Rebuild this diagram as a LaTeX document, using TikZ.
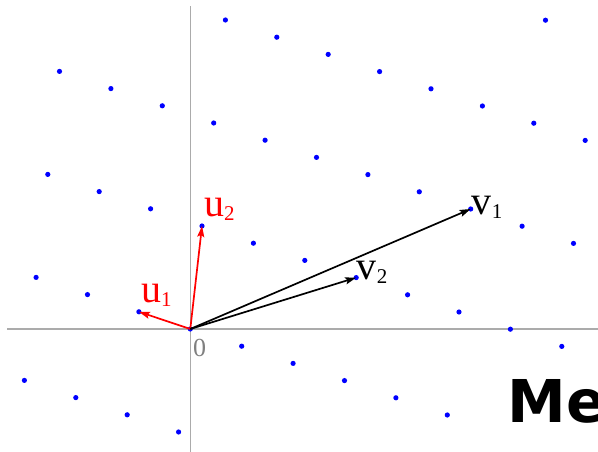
\documentclass[tikz,border=0pt]{standalone}
\usepackage{fontspec}
\setmainfont{Liberation Serif}
\newfontfamily\headfont{DejaVu Sans}
\usepackage{tikz}
\usetikzlibrary{arrows.meta}
\tikzset{
  axisline/.style={draw=black!33, line width=1.4pt},
  latdot/.style={fill=blue},
  basisvec/.style={line width=1.7pt, -{Stealth[length=11pt, width=7pt, inset=2pt]}},
  veclabel/.style={anchor=base west, inner sep=0pt},
}
\newcommand{\veclab}[2]{{\fontsize{40}{40}\selectfont #1}\raisebox{-4pt}{\fontsize{21}{21}\selectfont #2}}

\begin{document}
\begin{tikzpicture}[x=1pt, y=1pt]
  \useasboundingbox (-190.3,-123) rectangle (407.7,329);
  \clip (-190.3,-123) rectangle (407.7,329);
  % axes
  \coordinate (xl) at (-183,0);
  \coordinate (xr) at (407.7,0);
  \coordinate (yb) at (0,-123);
  \coordinate (yt) at (0,323);
  \draw[axisline] (xl) -- (xr);
  \draw[axisline] (yb) -- (yt);
  % lattice in the basis u1, u2
  \begin{scope}[x={(-51.4pt,17.2pt)}, y={(11.7pt,103pt)}]
    \coordinate (O) at (0,0);
    \coordinate (u1) at (1,0);
    \coordinate (u2) at (0,1);
    \coordinate (v1) at (-5,2);
    \coordinate (v2) at (-3,1);
    \foreach \b/\amin/\amax in {-1/0/3, 0/-5/3, 1/-7/3, 2/-7/3, 3/-7/0, 4/-6/-6}
      \foreach \a in {\amin,...,\amax}
        \fill[latdot] (\a,\b) circle[radius=2.6pt];
  \end{scope}
  % old basis (red) and reduced basis (black)
  \draw[basisvec, red] (O) -- (u1);
  \draw[basisvec, red] (O) -- (u2);
  \draw[basisvec, black] (O) -- (v1);
  \draw[basisvec, black] (O) -- (v2);
  \node[veclabel, text=red] (lu1) at (-49.3,26) {\veclab{u}{1}};
  \node[veclabel, text=red] (lu2) at (13.7,112) {\veclab{u}{2}};
  \node[veclabel] (lv1) at (281.4,114) {\veclab{v}{1}};
  \node[veclabel] (lv2) at (166.4,49) {\veclab{v}{2}};
  \node[veclabel, text=black!50, font=\fontsize{26}{26}\selectfont] (zero) at (2.7,-28) {0};
  \node[veclabel, font=\headfont\bfseries\fontsize{59}{59}\selectfont] (cut) at (317,-94) {Me};
\end{tikzpicture}
\end{document}
